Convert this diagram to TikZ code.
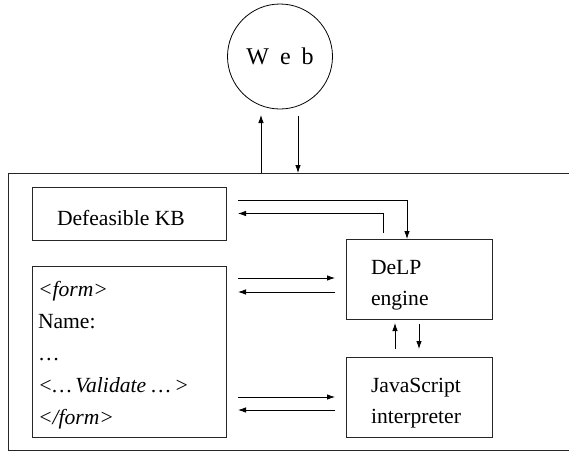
\documentclass[tikz,border=0pt]{standalone}
\usepackage{fontspec}
\setmainfont{Liberation Serif}
\usetikzlibrary{arrows.meta,calc}
\begin{document}
\begin{tikzpicture}[x=1pt,y=-1pt,
  every node/.style={inner sep=0pt,outer sep=0pt},
  box/.style={draw=black!85,line width=0.9pt,rectangle,anchor=center},
  txt/.style={font=\fontsize{21.6}{31}\selectfont,anchor=base west},
  arr/.style={line width=0.8pt,-{Latex[length=8pt,width=5.5pt]}}]
\clip (0,0) rectangle (569,455);
\node[box,minimum width=612pt,minimum height=277pt] (frame) at (314,311.5) {};
\node[draw=black,line width=0.8pt,circle,minimum size=105pt] (web) at (280,56.5)
  {\fontsize{24}{28}\selectfont W\hspace{11pt}e\hspace{11pt}b};
\node[box,minimum width=194pt,minimum height=53pt] (kb) at (129,213.5) {};
\node[box,minimum width=194pt,minimum height=171pt] (form) at (129,351.5) {};
\node[box,minimum width=146pt,minimum height=80pt] (delp) at (419,279) {};
\node[box,minimum width=146pt,minimum height=80pt] (js) at (419,397) {};
\node[txt] (kbt) at (57,225) {Defeasible KB};
\node[txt] (f1) at (38,296) {\textit{<form>}};
\node[txt] (f2) at (38,328) {Name:};
\node[txt] (f3) at (38,360) {\ldots};
\node[txt] (f4) at (38,392) {\textit{<\ldots\,Validate \ldots\,>}};
\node[txt] (f5) at (38,424) {\textit{</form>}};
\node[txt] (d1) at (371,274) {DeLP};
\node[txt] (d2) at (371,305) {engine};
\node[txt] (j1) at (371,392) {JavaScript};
\node[txt] (j2) at (371,423) {interpreter};
% Web <-> frame
\draw[arr] (frame.north -| 261,0) -- (261,115);
\draw[arr] (298,116) -- (frame.north -| 298,0);
% KB <-> DeLP
\draw[arr] ($(kb.east)+(12,-13.5)$) -| ($(delp.north)+(-12,0)$);
\draw[arr] ($(delp.north)+(-36,-6)$) |- ($(kb.east)+(12,0)$);
% Form <-> DeLP
\draw[arr] ($(kb.east|-delp.west)+(12,-1)$) -- ($(delp.west)+(-11,-1)$);
\draw[arr] ($(delp.west)+(-11,13)$) -- ($(kb.east|-delp.west)+(12,13)$);
% Form <-> JS
\draw[arr] ($(form.east|-js.west)+(12,0)$) -- ($(js.west)+(-11,0)$);
\draw[arr] ($(js.west)+(-11,13)$) -- ($(form.east|-js.west)+(12,13)$);
% DeLP <-> JS
\draw[arr] ($(js.north)+(-24,-8)$) -- ($(delp.south)+(-24,4)$);
\draw[arr] ($(delp.south)+(0,5)$) -- ($(js.north)+(0,-8)$);
\end{tikzpicture}
\end{document}
